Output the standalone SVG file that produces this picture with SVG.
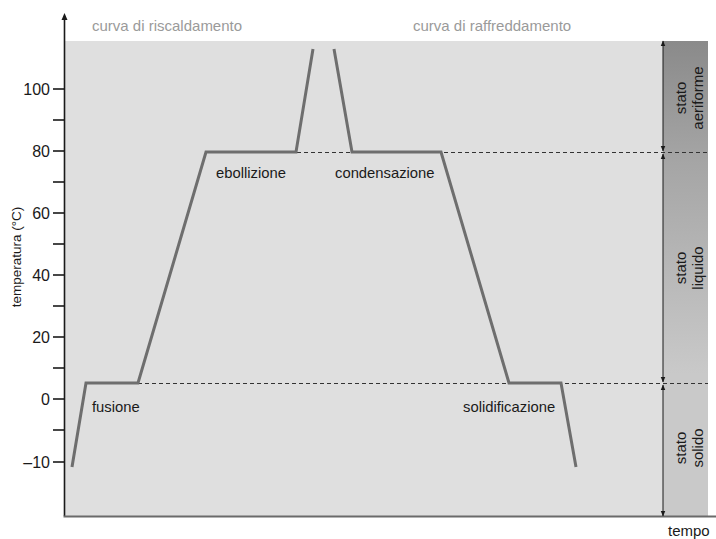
<svg xmlns="http://www.w3.org/2000/svg" width="716" height="539" viewBox="0 0 716 539">
<style>
text{font-family:"Liberation Sans",Arial,sans-serif;}
.lbl{font-size:14.8px;fill:#1a1a1a;}
.ttl{font-size:15px;fill:#9a9a9a;}
.tick{stroke:#1a1a1a;stroke-width:1.6;}
.num{font-size:16px;fill:#1a1a1a;text-anchor:end;}
.curve{fill:none;stroke:#6e6e6e;stroke-width:3;stroke-linejoin:miter;}
.dash{stroke:#333;stroke-width:1;stroke-dasharray:4 3;}
.st{font-size:15px;fill:#1a1a1a;text-anchor:middle;}
.sarr{stroke:#1a1a1a;stroke-width:1;marker-start:url(#ah);marker-end:url(#ah);}
</style>
<defs>
<linearGradient id="band" x1="0" y1="41" x2="0" y2="516" gradientUnits="userSpaceOnUse">
<stop offset="0" stop-color="#8a8a8a"/>
<stop offset="0.24" stop-color="#a4a4a4"/>
<stop offset="0.7" stop-color="#c9c9c9"/>
<stop offset="1" stop-color="#c9c9c9"/>
</linearGradient>
<marker id="ah" viewBox="0 0 10 10" refX="9" refY="5" markerWidth="6" markerHeight="6" orient="auto-start-reverse" markerUnits="userSpaceOnUse">
<path d="M0,1 L10,5 L0,9 z" fill="#1a1a1a"/>
</marker>
</defs>
<g id="background">
<rect x="64" y="41" width="644" height="475" fill="#dfdfdf"/>
<rect x="663" y="41" width="45" height="475" fill="url(#band)"/>
</g>
<g id="axes">
<line x1="64.5" y1="516" x2="64.5" y2="19" stroke="#1a1a1a" stroke-width="1.6"/>
<path d="M64.5,13 L61.5,20 L67.5,20 z" fill="#1a1a1a"/>
<line x1="63.5" y1="516.5" x2="716" y2="516.5" stroke="#6a6a6a" stroke-width="2"/>
<g class="tick">
<line x1="53" y1="89" x2="64" y2="89"/>
<line x1="53" y1="120" x2="64" y2="120"/>
<line x1="53" y1="151" x2="64" y2="151"/>
<line x1="53" y1="182" x2="64" y2="182"/>
<line x1="53" y1="213" x2="64" y2="213"/>
<line x1="53" y1="244" x2="64" y2="244"/>
<line x1="53" y1="275" x2="64" y2="275"/>
<line x1="53" y1="306" x2="64" y2="306"/>
<line x1="53" y1="337" x2="64" y2="337"/>
<line x1="53" y1="368" x2="64" y2="368"/>
<line x1="53" y1="399" x2="64" y2="399"/>
<line x1="53" y1="430" x2="64" y2="430"/>
<line x1="53" y1="462" x2="64" y2="462"/>
</g>
<text class="num" x="50" y="94.5">100</text>
<text class="num" x="50" y="156.5">80</text>
<text class="num" x="50" y="218.5">60</text>
<text class="num" x="50" y="280.5">40</text>
<text class="num" x="50" y="342.5">20</text>
<text class="num" x="50" y="404.5">0</text>
<text class="num" x="50" y="467.5">–10</text>
<text x="21" y="257" transform="rotate(-90 21 257)" text-anchor="middle" font-size="13.5" fill="#1a1a1a">temperatura (°C)</text>
<text x="668" y="536" font-size="15" fill="#1a1a1a">tempo</text>
</g>
<g id="connectors">
<line class="dash" x1="297" y1="152.5" x2="708" y2="152.5"/>
<line class="dash" x1="138" y1="383.5" x2="708" y2="383.5"/>
<line class="sarr" x1="663" y1="41" x2="663" y2="151"/>
<line class="sarr" x1="663" y1="154" x2="663" y2="382"/>
<line class="sarr" x1="663" y1="385" x2="663" y2="516"/>
</g>
<g id="heating-curve">
<polyline class="curve" points="72,467 86,383 138,383 206,152 296,152 313,49"/>
<text class="ttl" x="92" y="31">curva di riscaldamento</text>
<text class="lbl" x="92" y="412">fusione</text>
<text class="lbl" x="216" y="178">ebollizione</text>
</g>
<g id="cooling-curve">
<polyline class="curve" points="334,49 352,152 441,152 509,383 561,383 576,467"/>
<text class="ttl" x="413" y="31">curva di raffreddamento</text>
<text class="lbl" x="335" y="178">condensazione</text>
<text class="lbl" x="463" y="412">solidificazione</text>
</g>
<g id="state-aeriforme">
<text class="st" transform="translate(686 98) rotate(-90)">stato</text>
<text class="st" transform="translate(703 98) rotate(-90)">aeriforme</text>
</g>
<g id="state-liquido">
<text class="st" transform="translate(686 268) rotate(-90)">stato</text>
<text class="st" transform="translate(703 268) rotate(-90)">liquido</text>
</g>
<g id="state-solido">
<text class="st" transform="translate(686 448) rotate(-90)">stato</text>
<text class="st" transform="translate(703 448) rotate(-90)">solido</text>
</g>
</svg>
